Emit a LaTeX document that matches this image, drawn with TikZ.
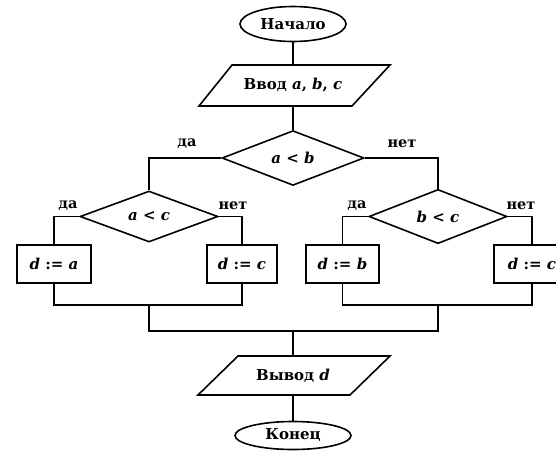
\documentclass[tikz,border=0pt]{standalone}
\usepackage{fontspec}
\setmainfont{DejaVu Serif}
\usetikzlibrary{shapes.geometric,calc}
\begin{document}
\begin{tikzpicture}[x=1pt,y=-1pt,
  line/.style={line width=1.6pt, black},
  term/.style={ellipse, draw, line width=1.6pt, inner sep=0pt, font=\bfseries\fontsize{15}{16}\selectfont},
  iobox/.style={inner sep=0pt, minimum width=120pt, minimum height=41pt, font=\bfseries\fontsize{15}{16}\selectfont},
  cond/.style={diamond, draw, line width=1.6pt, inner sep=0pt, font=\bfseries\fontsize{15}{16}\selectfont},
  proc/.style={rectangle, draw, line width=1.6pt, inner sep=0pt, minimum height=38pt, font=\bfseries\fontsize{15}{16}\selectfont},
  lbl/.style={font=\bfseries\fontsize{14.5}{16}\selectfont, inner sep=0pt}
]
\useasboundingbox (0,0) rectangle (556,451);

\node[term, minimum width=106pt, minimum height=35pt] (start) at (293,24) {Начало};
\node[iobox] (in) at (293,85.5) {Ввод \textit{a}, \textit{b}, \textit{c}};
\draw[line] ($(in.center)+(-61,-20.5)$) -- ++(158,0) -- ++(-38,41) -- ++(-153,0) -- cycle;

\node[cond, minimum width=142pt, minimum height=50pt] (main) at (293,158) {\textit{a} < \textit{b}};
\node[cond, minimum width=138pt, minimum height=51pt] (left) at (149,216.5) {\textit{a} < \textit{c}};
\node[cond, minimum width=138pt, minimum height=51pt] (right) at (438,216.5) {\textit{b} < \textit{c}};

\node[proc, minimum width=74pt] (pa) at (54,264) {\textit{d} := \textit{a}};
\node[proc, minimum width=70pt] (pc1) at (242,264) {\textit{d} := \textit{c}};
\node[proc, minimum width=73pt] (pb) at (342.5,264) {\textit{d} := \textit{b}};
\node[proc, minimum width=76pt] (pc2) at (532,264) {\textit{d} := \textit{c}};

\node[iobox] (out) at (293,375.5) {Вывод \textit{d}};
\draw[line] ($(out.center)+(-55,-19.5)$) -- ++(152,0) -- ++(-40,39) -- ++(-152,0) -- cycle;

\node[term, minimum width=116pt, minimum height=28pt] (end) at (293,435.5) {Конец};

\coordinate (m1) at (149,305);
\coordinate (m2) at (438,305);
\coordinate (j) at (293,331);

\draw[line] (start.south) -- (in.north);
\draw[line] (in.south) -- (main.north);
\draw[line] (main.west) -| (left.north);
\draw[line] (main.east) -| (right.north);
\draw[line] (left.west) -| (pa.north);
\draw[line] (left.east) -| (pc1.north);
\draw[line] (right.west) -| (pb.north);
\draw[line] (right.east) -| (pc2.north);
\draw[line] (pa.south) |- (m1) -| (pc1.south);
\draw[line] (pb.south) |- (m2) -| (pc2.south);
\draw[line] (m1) |- (j) -| (m2);
\draw[line] (j) -- (out.north);
\draw[line] (out.south) -- (end.north);

\node[lbl] (l1) at (187,144) {да};
\node[lbl] (l2) at (402,144) {нет};
\node[lbl] (l3) at (68,206) {да};
\node[lbl] (l4) at (233,206) {нет};
\node[lbl] (l5) at (357,206) {да};
\node[lbl] (l6) at (521,206) {нет};
\end{tikzpicture}
\end{document}
